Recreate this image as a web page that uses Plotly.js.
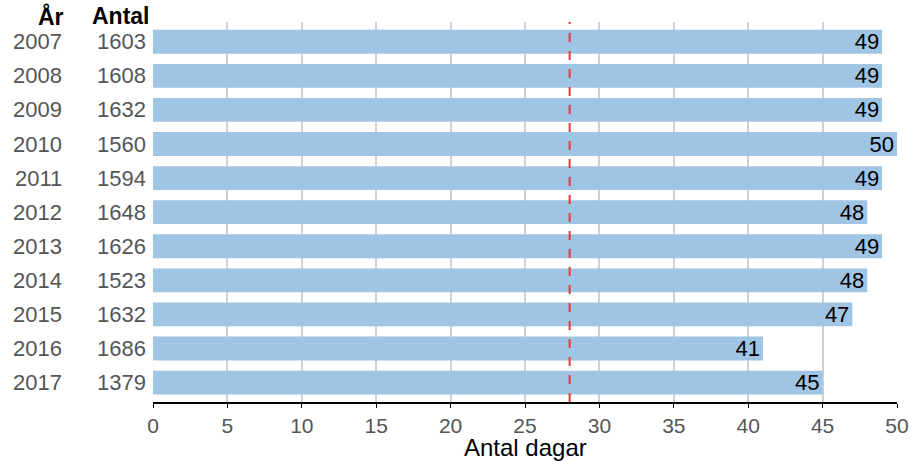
<!DOCTYPE html>
<html><head><meta charset="utf-8">
<script src="https://cdn.plot.ly/plotly-3.0.1.min.js"></script>
<style>html,body{margin:0;padding:0;background:#fff;}#chart{width:911px;height:461px;}</style>
</head><body><div id="chart"></div>
<script>
const years = ["2007","2008","2009","2010","2011","2012","2013","2014","2015","2016","2017"];
const antal = [1603,1608,1632,1560,1594,1648,1626,1523,1632,1686,1379];
const dagar = [49,49,49,50,49,48,49,48,47,41,45];
const refLine = 28;
const xTicks = [0,5,10,15,20,25,30,35,40,45,50];
const xTitle = 'Antal dagar';

const FONT = "Liberation Sans, Arial, sans-serif";
const annotations = [];
years.forEach((y,i)=>{
  annotations.push({xref:'paper', yref:'y', x:-0.1223, y:i, text:y, showarrow:false, xanchor:'right', yanchor:'middle', xshift:2, font:{family:FONT,size:22,color:'#555'}});
  annotations.push({xref:'paper', yref:'y', x:-0.0094, y:i, text:String(antal[i]), showarrow:false, xanchor:'right', yanchor:'middle', xshift:2, font:{family:FONT,size:22,color:'#555'}});
});
annotations.push({xref:'paper', yref:'paper', x:-0.119, y:1, yshift:6, xshift:2, text:'<b>År</b>', showarrow:false, xanchor:'right', yanchor:'middle', font:{family:FONT,size:23,color:'#000'}});
annotations.push({xref:'paper', yref:'paper', x:-0.004, y:1, yshift:6, xshift:2, text:'<b>Antal</b>', showarrow:false, xanchor:'right', yanchor:'middle', font:{family:FONT,size:23,color:'#000'}});
annotations.push({xref:'paper', yref:'paper', x:0.5, y:0, yshift:-45, text:xTitle, showarrow:false, xanchor:'center', yanchor:'middle', font:{family:FONT,size:24,color:'#000'}});

const trace = {
  type:'bar', orientation:'h', x:dagar, y:years,
  marker:{color:'#a0c4e4'},
  text:dagar.map(String), textposition:'inside', insidetextanchor:'end', textangle:0,
  textfont:{family:FONT,size:22,color:'#000'}, constraintext:'none',
  cliponaxis:false, hoverinfo:'none'
};
const layout = {
  width:911, height:461,
  margin:{l:153, r:14, t:22, b:59},
  paper_bgcolor:'#fff', plot_bgcolor:'#fff',
  bargap:0.3,
  showlegend:false,
  xaxis:{range:[0,50], tickvals:xTicks, ticktext:xTicks.map(String),
    showgrid:true, gridcolor:'#d0d0d0', gridwidth:2, zeroline:false,
    showline:true, linecolor:'#000', linewidth:2,
    ticks:'outside', ticklen:4, tickcolor:'#000', tickwidth:1,
    tickfont:{family:FONT,size:21,color:'#555'}},
  yaxis:{type:'category', range:[10.57,-0.58], showticklabels:false, showgrid:false, zeroline:false, showline:false, ticks:''},
  shapes:[{type:'line', xref:'x', yref:'paper', x0:refLine, x1:refLine, y0:0, y1:1, line:{color:'#e8383d', width:2, dash:'dash'}}],
  annotations:annotations
};
Plotly.newPlot('chart',[trace],layout,{displayModeBar:false,staticPlot:true});
</script></body></html>
